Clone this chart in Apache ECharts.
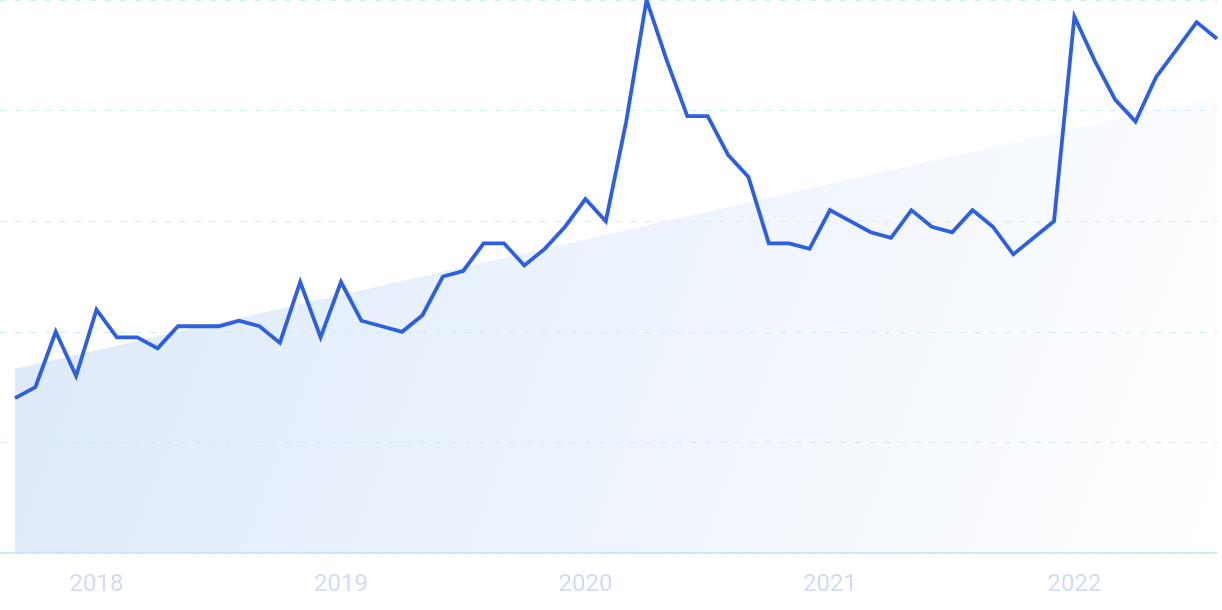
<!DOCTYPE html>
<html>
<head>
<meta charset="utf-8">
<script src="https://cdn.jsdelivr.net/npm/echarts@6/dist/echarts.min.js"></script>
<style>
html,body{margin:0;padding:0;background:#fff;}
#c{width:1222px;height:610px;}
</style>
</head>
<body>
<div id="c"></div>
<script>
// Months (Sep 2017 .. Aug 2022)
const months = [
 '2017-09','2017-10','2017-11','2017-12',
 '2018-01','2018-02','2018-03','2018-04','2018-05','2018-06','2018-07','2018-08','2018-09','2018-10','2018-11','2018-12',
 '2019-01','2019-02','2019-03','2019-04','2019-05','2019-06','2019-07','2019-08','2019-09','2019-10','2019-11','2019-12',
 '2020-01','2020-02','2020-03','2020-04','2020-05','2020-06','2020-07','2020-08','2020-09','2020-10','2020-11','2020-12',
 '2021-01','2021-02','2021-03','2021-04','2021-05','2021-06','2021-07','2021-08','2021-09','2021-10','2021-11','2021-12',
 '2022-01','2022-02','2022-03','2022-04','2022-05','2022-06','2022-07','2022-08'
];
// Search interest values
const values = [
 28,30,40,32,
 44,39,39,37,41,41,41,42,41,38,49,39,
 49,42,41,40,43,50,51,56,56,52,55,59,
 64,60,78,100,89,79,79,72,68,56,56,55,
 62,60,58,57,62,59,58,62,59,54,57,60,
 97,89,82,78,86,91,96,93
];
// Trend line: value at first and last month
const trend = [33.3, 82.6];
// Year tick labels
const yearLabels = ['2018','2019','2020','2021','2022'];

const yearIdx = yearLabels.map(y => months.indexOf(y + '-01'));
const lineData = values.map((v, i) => [i, v]);
const trendData = [[0, trend[0]], [months.length - 1, trend[1]]];

const chart = echarts.init(document.getElementById('c'), null, {renderer: 'canvas'});
chart.setOption({
  animation: false,
  grid: {left: 0, right: 5, top: 0, bottom: 57, containLabel: false},
  xAxis: {
    type: 'value',
    min: -0.736,
    max: months.length - 1,
    z: 3,
    axisLine: {show: true, lineStyle: {color: '#bfe3f8', width: 1.5}},
    axisTick: {show: false},
    splitLine: {show: false},
    axisLabel: {
      customValues: yearIdx,
      formatter: function (v) {
        const k = yearIdx.indexOf(Math.round(v));
        return k >= 0 ? yearLabels[k] : '';
      },
      color: '#d0dbf5',
      fontSize: 24,
      fontFamily: 'Roboto',
      margin: 20
    }
  },
  yAxis: {
    type: 'value',
    min: 0,
    max: 100,
    interval: 20,
    z: 3,
    axisLine: {show: false},
    axisTick: {show: false},
    axisLabel: {show: false},
    splitLine: {
      show: true,
      lineStyle: {color: '#d2eaf6', type: [6, 9], width: 1.2}
    }
  },
  series: [
    {
      type: 'line',
      data: trendData,
      symbol: 'none',
      lineStyle: {width: 0},
      silent: true,
      z: 1,
      areaStyle: {
        opacity: 1,
        color: new echarts.graphic.LinearGradient(0, 0, 1, 1, [
          {offset: 0, color: '#dbe8fa'},
          {offset: 1, color: '#ffffff'}
        ])
      }
    },
    {
      type: 'line',
      data: lineData,
      symbol: 'none',
      z: 4,
      lineStyle: {color: '#2d5fe4', width: 3.8, join: 'miter'}
    }
  ]
});
</script>
</body>
</html>
